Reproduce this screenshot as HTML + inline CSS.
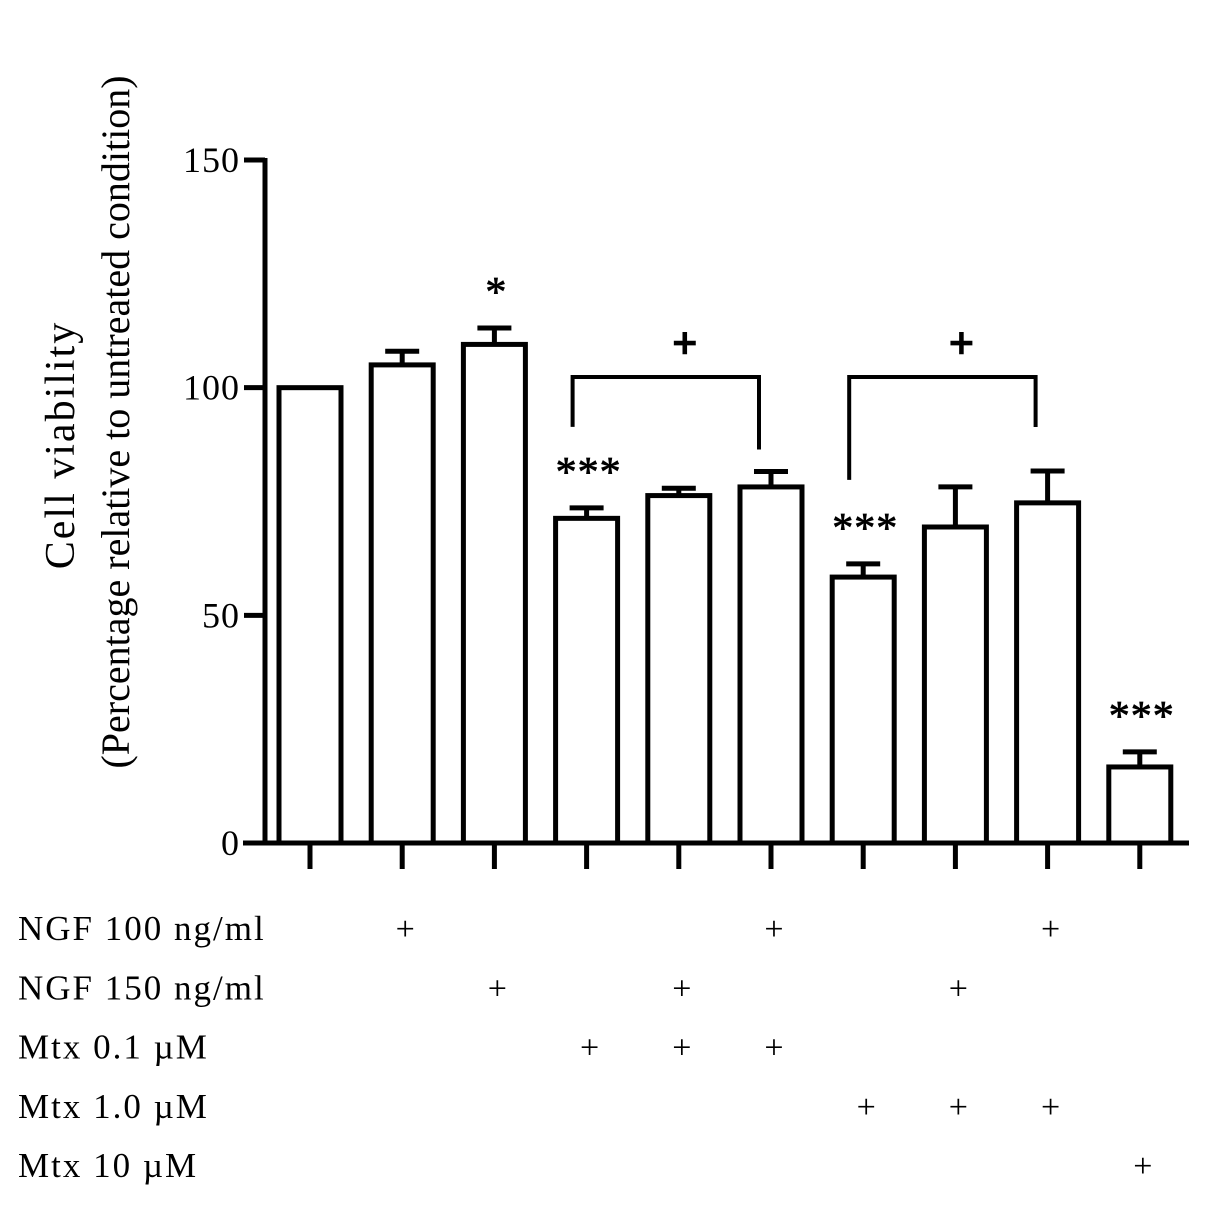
<!DOCTYPE html>
<html><head><meta charset="utf-8"><style>
body{margin:0;background:#fff}
svg text{font-family:"Liberation Serif",serif;fill:#000}
</style></head><body>
<svg id="chart" width="1205" height="1205" viewBox="0 0 1205 1205" xmlns="http://www.w3.org/2000/svg">
<g id="marks"></g>
</svg>
<script>
const categories = ["Control","NGF100","NGF150","Mtx0.1","Mtx0.1+NGF150","Mtx0.1+NGF100","Mtx1.0","Mtx1.0+NGF150","Mtx1.0+NGF100","Mtx10"];
const values = [100,105,109.5,71.3,76.3,78.2,58.4,69.4,74.7,16.7];
const errors = [0,3,3.6,2.3,1.6,3.4,2.9,8.8,7,3.3];
const stars = ["","","*","***","","","***","","","***"];
const yTicks = [0,50,100,150];
const rowLabels = ["NGF 100 ng/ml","NGF 150 ng/ml","Mtx 0.1 \u00b5M","Mtx 1.0 \u00b5M","Mtx 10 \u00b5M"];
const rowPlus = [[1,5,8],[2,4,7],[3,4,5],[6,7,8],[9]];
const brackets = [[3,5],[6,8]];

const NS="http://www.w3.org/2000/svg";
const g=document.getElementById('marks');
const y0=843, pxPer=683/150;
const yS=v=>y0-v*pxPer;
const xS=i=>310+i*92.2;
const bw=62;
const bracketGaps=[[81,22],[84,44]];
function el(t,a){const e=document.createElementNS(NS,t);for(const k in a)e.setAttribute(k,a[k]);g.appendChild(e);return e;}

let ax=el('line',{x1:265,y1:yS(150)-2,x2:265,y2:y0+2,stroke:'#000','stroke-width':5});


yTicks.forEach(t=>{
  let l=el('line',{x1:244,y1:yS(t),x2:265,y2:yS(t),stroke:'#000','stroke-width':5});
  
  
  let tx=el('text',{x:240,y:yS(t)+12,'font-size':36,'text-anchor':'end','letter-spacing':1});tx.textContent=t;
  
  
});
let xa=el('line',{x1:243,y1:y0,x2:1189,y2:y0,stroke:'#000','stroke-width':5});



categories.forEach((c,i)=>{
  const x=xS(i), top=yS(values[i]);
  if(errors[i]>0){
    const et=yS(values[i]+errors[i]);
    let e1=el('line',{x1:x,y1:top,x2:x,y2:et,stroke:'#000','stroke-width':5});
    
    
    let e2=el('line',{x1:x-17,y1:et,x2:x+17,y2:et,stroke:'#000','stroke-width':5});
    
    
  }
  let r=el('rect',{x:x-bw/2,y:top,width:bw,height:y0-top,fill:'#fff',stroke:'#000','stroke-width':5});
  
  
  let tk=el('line',{x1:x,y1:y0,x2:x,y2:869,stroke:'#000','stroke-width':5});
  
  
  if(stars[i]){
    const sy=yS(values[i]+errors[i])-22;
    let s=el('text',{x:x+2,y:sy,'font-size':42,'text-anchor':'middle','letter-spacing':1,stroke:'#000','stroke-width':0.8});s.textContent=stars[i];
    
    
  }
});
brackets.forEach((b,k)=>{
  const a=b[0],c=b[1];
  const ya=yS(values[a]+errors[a])-bracketGaps[k][0], yc=yS(values[c]+errors[c])-bracketGaps[k][1], yt=377;
  const xa=xS(a)-14, xc=xS(c)-12;
  let p=el('path',{d:`M${xa},${ya} V${yt} H${xc} V${yc}`,fill:'none',stroke:'#000','stroke-width':4});
  
  
  let t=el('text',{x:(xa+xc)/2+19,y:358,'font-size':44,'font-weight':'bold','text-anchor':'middle','font-family':'Liberation Sans, sans-serif',stroke:'#000','stroke-width':1.5});t.textContent='+';
  
  
});
rowLabels.forEach((lab,r)=>{
  const y=940+r*59.3;
  let t=el('text',{x:18,y:y,'font-size':35,'letter-spacing':2});t.textContent=lab;
  
  
  rowPlus[r].forEach(i=>{
    let p=el('text',{x:xS(i)+3,y:y,'font-size':34,'text-anchor':'middle'});p.textContent='+';
    
    
  });
});
let t1=el('text',{x:0,y:0,'font-size':42,'text-anchor':'middle','letter-spacing':2,transform:'translate(74,445) rotate(-90)'});t1.textContent='Cell viability';


let t2=el('text',{x:0,y:0,'font-size':40,'text-anchor':'middle',transform:'translate(129,422) rotate(-90)'});t2.textContent='(Percentage relative to untreated condition)';


</script>
</body></html>
